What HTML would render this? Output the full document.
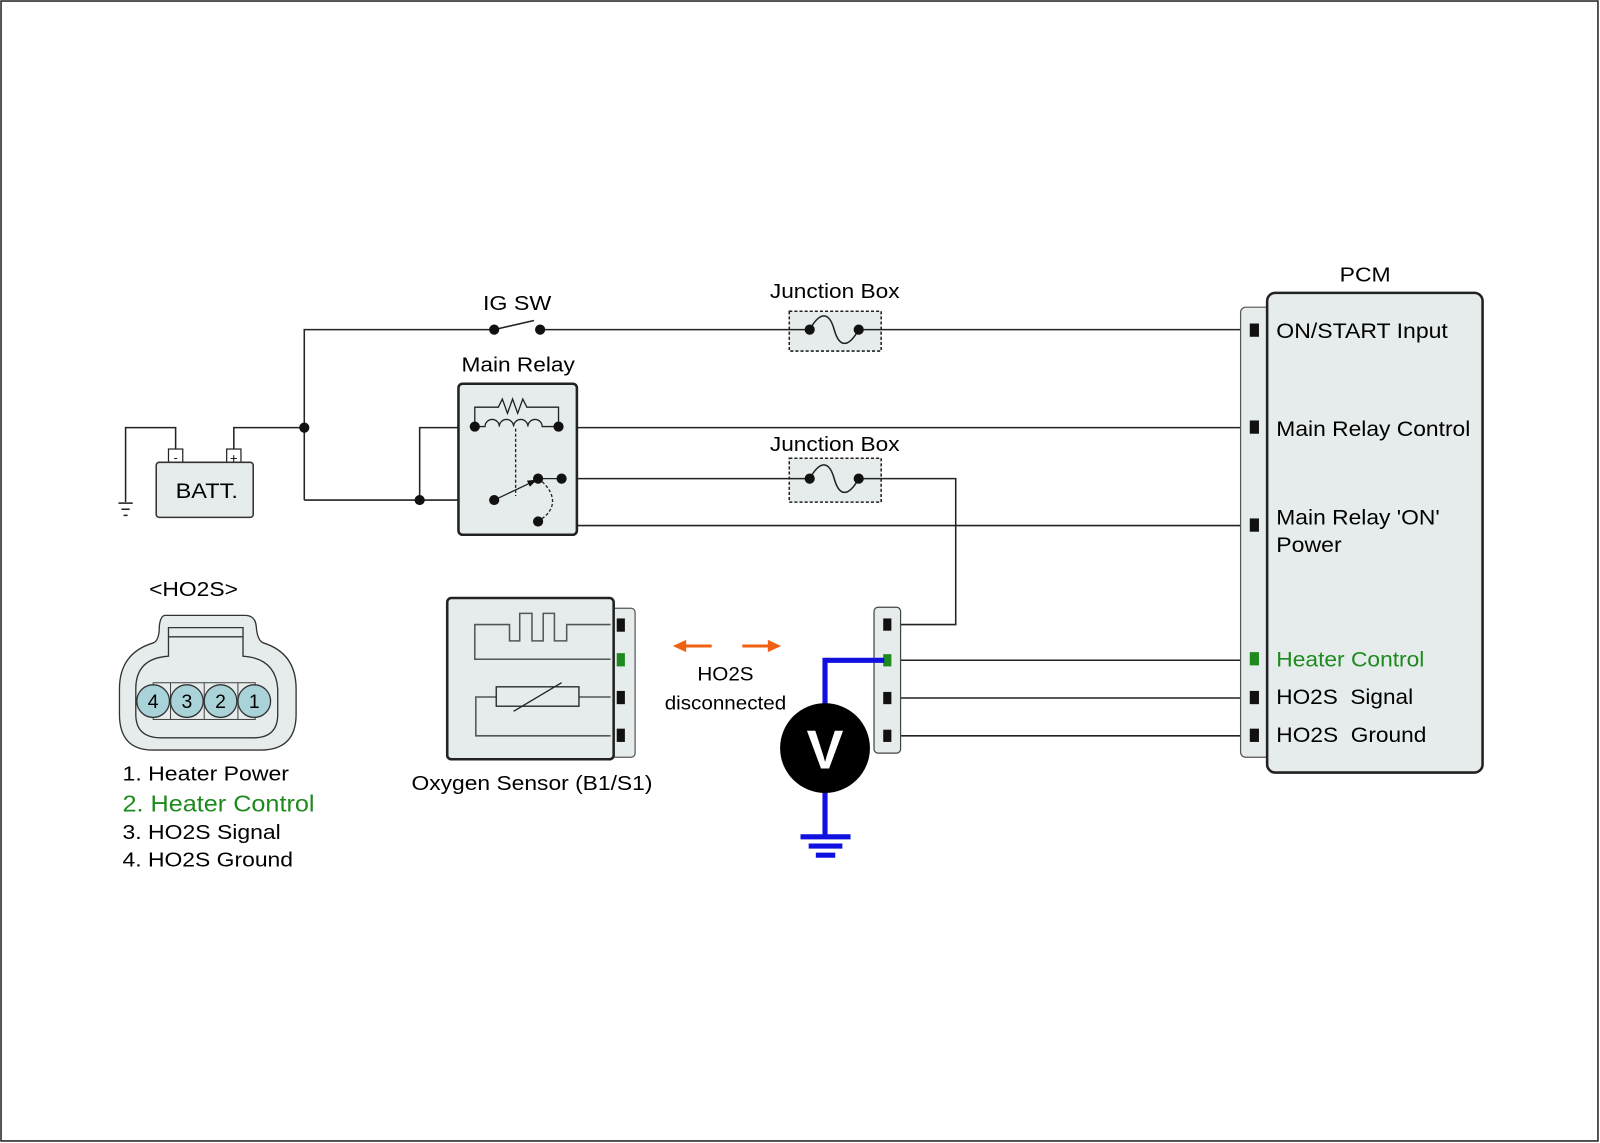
<!DOCTYPE html>
<html><head><meta charset="utf-8"><style>
html,body{margin:0;padding:0;background:#fff;}
svg{display:block;}
text{font-family:"Liberation Sans",Arial,sans-serif;}
</style></head><body>
<svg width="1600" height="1143" viewBox="0 0 1567 1120" preserveAspectRatio="none" xmlns="http://www.w3.org/2000/svg">
<rect x="1" y="1" width="1564" height="1117" fill="#fff" stroke="#222" stroke-width="1.5"/>
<g stroke="#222" stroke-width="1.5" fill="none">
<polyline points="298,490 298,323 484,323"/>
<line x1="484" y1="323" x2="523" y2="314"/>
<line x1="529" y1="323" x2="1222" y2="323"/>
<polyline points="229,442 229,419 298,419"/>
<polyline points="172,442 172,419 123,419 123,492"/>
<line x1="116" y1="493" x2="130" y2="493"/>
<line x1="119" y1="499" x2="127" y2="499"/>
<line x1="121" y1="505" x2="125" y2="505"/>
<line x1="298" y1="490" x2="484" y2="490"/>
<polyline points="411,490 411,419 465,419"/>
<line x1="547" y1="419" x2="1222" y2="419"/>
<line x1="550" y1="469" x2="793" y2="469"/>
<polyline points="841,469 936,469 936,612 877,612"/>
<polyline points="550,469 550,515 1222,515"/>
<line x1="877" y1="684" x2="1222" y2="684"/>
<line x1="877" y1="721" x2="1222" y2="721"/>
<line x1="872" y1="647" x2="1222" y2="647"/>
</g>
<rect x="165" y="440" width="14" height="15" fill="#fff" stroke="#222" stroke-width="1.2"/>
<rect x="222" y="440" width="14" height="15" fill="#fff" stroke="#222" stroke-width="1.2"/>
<text x="172" y="452" font-size="12" text-anchor="middle">-</text>
<text x="229" y="453" font-size="13" text-anchor="middle">+</text>
<rect x="153" y="453" width="95" height="54" rx="3" fill="#e6ecec" stroke="#333" stroke-width="1.5"/>
<text x="172" y="488" font-size="21" textLength="61" lengthAdjust="spacingAndGlyphs">BATT.</text>
<circle cx="298" cy="419" r="5" fill="#111"/>
<circle cx="411" cy="490" r="5" fill="#111"/>
<text x="473" y="304" font-size="20" textLength="67" lengthAdjust="spacingAndGlyphs">IG SW</text>
<circle cx="484" cy="323" r="5" fill="#111"/>
<circle cx="529" cy="323" r="5" fill="#111"/>
<text x="754" y="292" font-size="20" textLength="127" lengthAdjust="spacingAndGlyphs">Junction Box</text>
<rect x="773" y="305" width="90" height="39" fill="#e6ecec" stroke="#222" stroke-width="1.5" stroke-dasharray="3,2"/>
<line x1="773" y1="323" x2="793" y2="323" stroke="#222" stroke-width="1.5"/>
<line x1="841" y1="323" x2="863" y2="323" stroke="#222" stroke-width="1.5"/>
<path d="M793,323 C803,305 812,305 817,323 C822,341 831,341 841,323" fill="none" stroke="#222" stroke-width="1.5"/>
<circle cx="793" cy="323" r="5" fill="#111"/><circle cx="841" cy="323" r="5" fill="#111"/>
<text x="754" y="442" font-size="20" textLength="127" lengthAdjust="spacingAndGlyphs">Junction Box</text>
<rect x="773" y="449" width="90" height="43" fill="#e6ecec" stroke="#222" stroke-width="1.5" stroke-dasharray="3,2"/>
<line x1="773" y1="469" x2="793" y2="469" stroke="#222" stroke-width="1.5"/>
<line x1="841" y1="469" x2="863" y2="469" stroke="#222" stroke-width="1.5"/>
<path d="M793,469 C803,451 812,451 817,469 C822,487 831,487 841,469" fill="none" stroke="#222" stroke-width="1.5"/>
<circle cx="793" cy="469" r="5" fill="#111"/><circle cx="841" cy="469" r="5" fill="#111"/>
<text x="452" y="364" font-size="20" textLength="111" lengthAdjust="spacingAndGlyphs">Main Relay</text>
<rect x="449" y="376" width="116" height="148" rx="4" fill="#e6ecec" stroke="#222" stroke-width="2.5"/>
<g stroke="#222" stroke-width="1.3" fill="none">
<polyline points="465,418 465,399 488,399 492,391 497,405 502,391 507,405 512,391 516,399 547,399 547,418"/>
<path d="M465,418 H475 a7,7 0 0 1 14,0 a7,7 0 0 1 14,0 a7,7 0 0 1 14,0 a7,7 0 0 1 14,0 H547"/>
<line x1="505" y1="420" x2="505" y2="486" stroke-dasharray="3,2"/>
<line x1="484" y1="490" x2="522" y2="472"/>
<path d="M531,472 C545,485 545,500 528,510" stroke-dasharray="3,2"/>
<line x1="527" y1="469" x2="550" y2="469"/>
</g>
<polygon points="526,470 516,471 519,477" fill="#111"/>
<circle cx="465" cy="418" r="5" fill="#111"/><circle cx="547" cy="418" r="5" fill="#111"/>
<circle cx="484" cy="490" r="5" fill="#111"/><circle cx="527" cy="469" r="5" fill="#111"/>
<circle cx="550" cy="469" r="5" fill="#111"/><circle cx="527" cy="511" r="5" fill="#111"/>
<text x="1312" y="276" font-size="20" textLength="50" lengthAdjust="spacingAndGlyphs">PCM</text>
<rect x="1215" y="301" width="36" height="441" rx="5" fill="#e6ecec" stroke="#555" stroke-width="1.2"/>
<rect x="1241" y="287" width="211" height="470" rx="8" fill="#e6ecec" stroke="#222" stroke-width="2.5"/>
<g fill="#111">
<rect x="1224" y="317" width="9" height="13"/><rect x="1224" y="412" width="9" height="13"/>
<rect x="1224" y="508" width="9" height="13"/><rect x="1224" y="677" width="9" height="13"/>
<rect x="1224" y="714" width="9" height="13"/>
</g>
<rect x="1224" y="639" width="9" height="13" fill="#1e8a1e"/>
<g font-size="21">
<text x="1250" y="331" textLength="168" lengthAdjust="spacingAndGlyphs">ON/START Input</text>
<text x="1250" y="427" textLength="190" lengthAdjust="spacingAndGlyphs">Main Relay Control</text>
<text x="1250" y="514" textLength="160" lengthAdjust="spacingAndGlyphs">Main Relay 'ON'</text>
<text x="1250" y="541" textLength="64" lengthAdjust="spacingAndGlyphs">Power</text>
<text x="1250" y="653" fill="#1e8a1e" textLength="145" lengthAdjust="spacingAndGlyphs">Heater Control</text>
<text x="1250" y="690" textLength="134" lengthAdjust="spacingAndGlyphs">HO2S&#160; Signal</text>
<text x="1250" y="727" textLength="147" lengthAdjust="spacingAndGlyphs">HO2S&#160; Ground</text>
</g>
<rect x="856" y="595" width="26" height="143" rx="4" fill="#e6ecec" stroke="#444" stroke-width="1.2"/>
<g fill="#111"><rect x="865" y="606" width="8" height="12"/><rect x="865" y="678" width="8" height="12"/><rect x="865" y="715" width="8" height="12"/></g>
<rect x="865" y="641" width="8" height="12" fill="#1e8a1e"/>
<polyline points="866,647 808,647 808,700" fill="none" stroke="#1010e0" stroke-width="5"/>
<line x1="808" y1="770" x2="808" y2="820" stroke="#1010e0" stroke-width="5"/>
<line x1="784" y1="820" x2="833" y2="820" stroke="#1010e0" stroke-width="5"/>
<line x1="792" y1="829" x2="825" y2="829" stroke="#1010e0" stroke-width="5"/>
<line x1="799" y1="838" x2="818" y2="838" stroke="#1010e0" stroke-width="5"/>
<circle cx="808" cy="733" r="44" fill="#000"/>
<text x="808" y="753" font-size="54" font-weight="bold" fill="#fff" text-anchor="middle">V</text>
<line x1="670" y1="633" x2="697" y2="633" stroke="#f06010" stroke-width="3"/>
<polygon points="659,633 672,627 672,639" fill="#f06010"/>
<line x1="727" y1="633" x2="754" y2="633" stroke="#f06010" stroke-width="3"/>
<polygon points="765,633 752,627 752,639" fill="#f06010"/>
<text x="683" y="667" font-size="19" textLength="55" lengthAdjust="spacingAndGlyphs">HO2S</text>
<text x="651" y="695" font-size="19" textLength="119" lengthAdjust="spacingAndGlyphs">disconnected</text>
<rect x="596" y="596" width="26" height="146" rx="4" fill="#e6ecec" stroke="#555" stroke-width="1.2"/>
<rect x="438" y="586" width="163" height="158" rx="4" fill="#e6ecec" stroke="#222" stroke-width="2.5"/>
<g stroke="#555" stroke-width="1.5" fill="none">
<polyline points="598,612 555,612 555,628 543,628 543,601 532,601 532,628 521,628 521,601 509,601 509,628 499,628 499,612 465,612 465,646 598,646"/>
<polyline points="598,683 567,683"/>
<polyline points="486,683 466,683 466,721 598,721"/>
</g>
<rect x="486" y="673" width="81" height="19" fill="#e6ecec" stroke="#222" stroke-width="1.3"/>
<line x1="503" y1="697" x2="550" y2="669" stroke="#222" stroke-width="1.3"/>
<g fill="#111">
<rect x="604" y="606" width="8" height="13"/><rect x="604" y="677" width="8" height="13"/><rect x="604" y="714" width="8" height="13"/></g>
<rect x="604" y="640" width="8" height="13" fill="#1e8a1e"/>
<text x="403" y="774" font-size="20" textLength="236" lengthAdjust="spacingAndGlyphs">Oxygen Sensor (B1/S1)</text>
<text x="146" y="584" font-size="20" textLength="87" lengthAdjust="spacingAndGlyphs">&lt;HO2S&gt;</text>
<path d="M162,603 H240 Q250,603 251,614 Q252,628 258,630 Q290,640 290,675 V700 Q290,735 255,735 H150 Q117,735 117,700 V675 Q117,640 150,630 Q156,628 156,614 Q157,603 162,603 Z" fill="#e6ecec" stroke="#333" stroke-width="1.3"/>
<path d="M165,615 H238 V643 Q270,645 272,675 V700 Q272,723 248,723 H158 Q133,723 133,700 V675 Q133,645 165,643 Z" fill="#e6ecec" stroke="#333" stroke-width="1.3"/>
<line x1="165" y1="624" x2="238" y2="624" stroke="#333" stroke-width="1.3"/>
<rect x="150" y="669" width="100" height="36" fill="none" stroke="#444" stroke-width="1"/>
<line x1="167" y1="669" x2="167" y2="705" stroke="#444"/><line x1="200" y1="669" x2="200" y2="705" stroke="#444"/><line x1="233" y1="669" x2="233" y2="705" stroke="#444"/>
<g fill="#a9d3d8" stroke="#333" stroke-width="1.3">
<circle cx="150" cy="687" r="16"/><circle cx="183" cy="687" r="16"/><circle cx="216" cy="687" r="16"/><circle cx="249" cy="687" r="16"/>
</g>
<g font-size="19" text-anchor="middle">
<text x="150" y="694">4</text><text x="183" y="694">3</text><text x="216" y="694">2</text><text x="249" y="694">1</text>
</g>
<text x="120" y="765" font-size="20" textLength="163" lengthAdjust="spacingAndGlyphs">1. Heater Power</text>
<text x="120" y="795" font-size="23" fill="#1e8a1e" textLength="188" lengthAdjust="spacingAndGlyphs">2. Heater Control</text>
<text x="120" y="822" font-size="20" textLength="155" lengthAdjust="spacingAndGlyphs">3. HO2S Signal</text>
<text x="120" y="849" font-size="20" textLength="167" lengthAdjust="spacingAndGlyphs">4. HO2S Ground</text>
</svg>
</body></html>
